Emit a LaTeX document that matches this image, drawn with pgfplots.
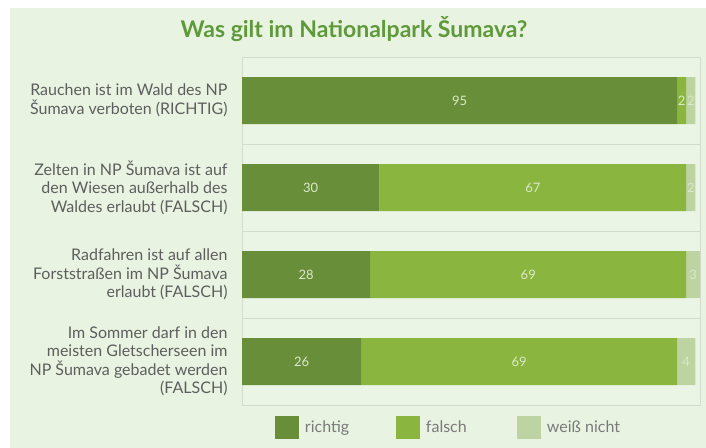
\documentclass[border=0pt]{standalone}
\usepackage{pgfplots}
\usepackage{pgfplotstable}
\pgfplotsset{compat=1.18}
\usepackage{fontspec}
\setmainfont{Lato}
\definecolor{bg}{HTML}{E8F3E1}
\definecolor{plotbg}{HTML}{EBF5E6}
\definecolor{gridc}{HTML}{D3DCCD}
\definecolor{cR}{HTML}{688E3A}
\definecolor{cF}{HTML}{8AB640}
\definecolor{cW}{HTML}{BDD3A2}
\definecolor{titlec}{HTML}{5E9A3A}
\definecolor{labc}{HTML}{5E5E5E}
\definecolor{legc}{HTML}{7A7A7A}
\definecolor{numc}{HTML}{DCE8CA}
\pgfplotstableread{
y r f w
0 95 2 2
1 30 67 2
2 28 69 3
3 26 69 4
}\data
\begin{document}
\begin{tikzpicture}
\fill[white] (0bp,0bp) rectangle (706bp,-448bp);
\fill[bg] (10bp,-8bp) rectangle (706bp,-448bp);
\node[font=\fontsize{23bp}{27bp}\selectfont\bfseries, text=titlec] at (354bp,-29bp) {Was gilt im Nationalpark Šumava?};
\begin{axis}[
  at={(242bp,-405bp)}, anchor=south west,
  scale only axis, width=458bp, height=348bp,
  xbar stacked, bar width=47bp,
  xmin=0, xmax=100, ymin=-0.5, ymax=3.5, y dir=reverse,
  axis background/.style={fill=plotbg},
  axis line style={draw=gridc},
  xtick=\empty,
  ytick={0,1,2,3},
  yticklabels={
    {Rauchen ist im Wald des NP\\Šumava verboten (RICHTIG)},
    {Zelten in NP Šumava ist auf\\den Wiesen außerhalb des\\Waldes erlaubt (FALSCH)},
    {Radfahren ist auf allen\\Forststraßen im NP Šumava\\erlaubt (FALSCH)},
    {Im Sommer darf in den\\meisten Gletscherseen im\\NP Šumava gebadet werden\\(FALSCH)}},
  yticklabel style={align=right, text=labc, font=\fontsize{16bp}{18.5bp}\selectfont, xshift=-11bp},
  major tick length=0pt,
  extra y ticks={0.5,1.5,2.5},
  extra y tick labels={},
  extra y tick style={grid=major, major grid style={draw=gridc, line width=0.8bp}},
  legend columns=3,
  legend style={draw=none, fill=none, inner sep=0pt, outer sep=0pt,
    at={(0.072,-0.0647)}, anchor=west,
    font=\fontsize{16bp}{18bp}\selectfont, text=legc,
    nodes={inner sep=3bp},
    /tikz/every odd column/.append style={column sep=3bp},
    /tikz/every even column/.append style={column sep=0bp}},
  legend image code/.code={\draw[#1, draw=none] (0bp,-11.5bp) rectangle (24bp,11.5bp);},
]
\addplot[fill=cR, draw=none] table[x=r, y=y] {\data};
\addlegendentry{\makebox[88bp][l]{richtig}}
\addplot[fill=cF, draw=none] table[x=f, y=y] {\data};
\addlegendentry{\makebox[88bp][l]{falsch}}
\addplot[fill=cW, draw=none] table[x=w, y=y] {\data};
\addlegendentry{\makebox[88bp][l]{weiß nicht}}
\end{axis}
\begin{axis}[
  at={(242bp,-405bp)}, anchor=south west,
  scale only axis, width=458bp, height=348bp,
  xmin=0, xmax=100, ymin=-0.5, ymax=3.5, y dir=reverse,
  hide axis,
  /pgf/number format/assume math mode=true,
  nodes near coords, point meta=explicit,
  nodes near coords={\pgfmathprintnumber{\pgfplotspointmeta}},
  every node near coord/.style={anchor=center, text=numc, font=\fontsize{13bp}{15bp}\selectfont, inner sep=0pt},
]
\addplot[only marks, mark=*, mark size=0pt, mark options={draw=none, fill=none}] table[x expr=\thisrow{r}/2, y=y, meta=r] {\data};
\addplot[only marks, mark=*, mark size=0pt, mark options={draw=none, fill=none}] table[x expr=\thisrow{r}+\thisrow{f}/2, y=y, meta=f] {\data};
\addplot[only marks, mark=*, mark size=0pt, mark options={draw=none, fill=none}] table[x expr=\thisrow{r}+\thisrow{f}+\thisrow{w}/2, y=y, meta=w] {\data};
\end{axis}
\end{tikzpicture}
\end{document}
